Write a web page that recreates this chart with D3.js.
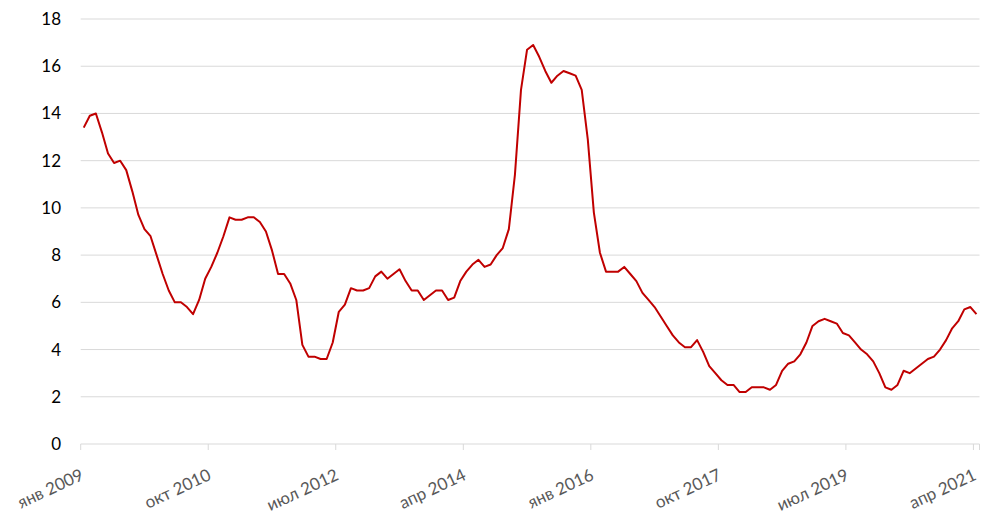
<!DOCTYPE html>
<html><head><meta charset="utf-8">
<script src="https://cdn.jsdelivr.net/npm/d3@7"></script>
<style>body{margin:0;background:#fff}svg{display:block}</style>
</head><body>
<svg id="c" width="1000" height="523"></svg>
<script>
const startYear = 2009;
const values = [
 13.4,13.9,14.0,13.2,12.3,11.9,12.0,11.6,10.7,9.7,9.1,8.8,
 8.0,7.2,6.5,6.0,6.0,5.8,5.5,6.1,7.0,7.5,8.1,8.8,
 9.6,9.5,9.5,9.6,9.6,9.4,9.0,8.2,7.2,7.2,6.8,6.1,
 4.2,3.7,3.7,3.6,3.6,4.3,5.6,5.9,6.6,6.5,6.5,6.6,
 7.1,7.3,7.0,7.2,7.4,6.9,6.5,6.5,6.1,6.3,6.5,6.5,
 6.1,6.2,6.9,7.3,7.6,7.8,7.5,7.6,8.0,8.3,9.1,11.4,
 15.0,16.7,16.9,16.4,15.8,15.3,15.6,15.8,15.7,15.6,15.0,12.9,
 9.8,8.1,7.3,7.3,7.3,7.5,7.2,6.9,6.4,6.1,5.8,5.4,
 5.0,4.6,4.3,4.1,4.1,4.4,3.9,3.3,3.0,2.7,2.5,2.5,
 2.2,2.2,2.4,2.4,2.4,2.3,2.5,3.1,3.4,3.5,3.8,4.3,
 5.0,5.2,5.3,5.2,5.1,4.7,4.6,4.3,4.0,3.8,3.5,3.0,
 2.4,2.3,2.5,3.1,3.0,3.2,3.4,3.6,3.7,4.0,4.4,4.9,
 5.2,5.7,5.8,5.5
];
const monthNames = ["янв","фев","мар","апр","май","июн","июл","авг","сен","окт","ноя","дек"];
const categories = values.map((v,i)=> monthNames[i%12] + " " + (startYear + Math.floor(i/12)));
const tickIndexes = [0,21,42,63,84,105,126,147];
const yTicks = [0,2,4,6,8,10,12,14,16,18];

const svg = d3.select("#c");
const mLeft = 80.7, mRight = 979.5, mTop = 19, mBottom = 444;

const x = d3.scaleBand().domain(d3.range(values.length)).range([mLeft, mRight]).paddingInner(0).paddingOuter(0);
const y = d3.scaleLinear().domain([0,18]).range([mBottom, mTop]);

svg.append("g").selectAll("line").data(yTicks.filter(t=>t>0)).join("line")
  .attr("x1", mLeft).attr("x2", mRight)
  .attr("y1", d=>y(d)).attr("y2", d=>y(d))
  .attr("stroke", "#d9d9d9").attr("stroke-width", 1);

svg.append("g").selectAll("text").data(yTicks).join("text")
  .attr("x", 61).attr("y", d=>y(d)).attr("dy", "0.35em")
  .attr("text-anchor", "end")
  .attr("font-family", "Lato, 'Open Sans', sans-serif").attr("font-size", 17)
  .attr("fill", "#000").text(d=>d);

const xAxis = d3.axisBottom(x).tickValues(tickIndexes).tickSize(6).tickFormat(i=>categories[i]);
const gx = svg.append("g").attr("transform", `translate(0,${mBottom})`).call(xAxis);
gx.select(".domain").attr("stroke", "#d9d9d9").attr("d", `M${mLeft},0H${mRight}`);
gx.selectAll(".tick").attr("transform", d=>`translate(${x(d)},0)`);
gx.selectAll(".tick line").attr("stroke", "#d9d9d9");
gx.selectAll(".tick text")
  .attr("font-family", "Lato, 'Open Sans', sans-serif").attr("font-size", 17)
  .attr("fill", "#595959")
  .attr("text-anchor", "end")
  .attr("x", 0).attr("y", 0).attr("dy", 0)
  .attr("transform", "translate(4,35) rotate(-25)");
gx.append("line").attr("x1", mRight).attr("x2", mRight).attr("y1", 0).attr("y2", 6).attr("stroke", "#d9d9d9");

const line = d3.line().x((d,i)=>x(i)+x.bandwidth()/2).y(d=>y(d));
svg.append("path").datum(values).attr("d", line)
  .attr("fill", "none").attr("stroke", "#c00000").attr("stroke-width", 2)
  .attr("stroke-linejoin", "round");
</script>
</body></html>
